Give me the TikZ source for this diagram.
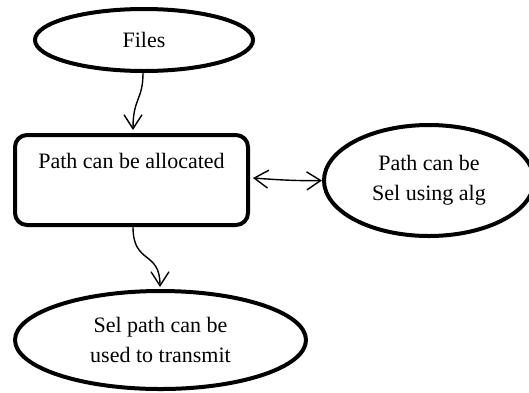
\documentclass[tikz,border=0pt]{standalone}
\usepackage{fontspec}
\setmainfont{Liberation Serif}
\usetikzlibrary{shapes.geometric,arrows.meta}
\tikzset{
  ell/.style={ellipse,draw,line width=4pt,inner sep=0pt,align=center,font=\fontsize{22}{30}\selectfont},
  boxnode/.style={rectangle,rounded corners=12pt,draw,line width=4pt,inner sep=0pt,align=center,font=\fontsize{22}{30}\selectfont},
  conn/.style={line width=1.4pt,-{Straight Barb[length=14pt,width=18pt,line width=1.4pt]}},
  dconn/.style={line width=1.4pt,{Straight Barb[length=14pt,width=18pt,line width=1.4pt]}-{Straight Barb[length=14pt,width=18pt,line width=1.4pt]}}
}
\begin{document}
\begin{tikzpicture}[x=1pt,y=-1pt]
\useasboundingbox (0,0) rectangle (529,392);
\begin{scope}
\clip (0,0) rectangle (529,392);
\node[ell,minimum width=218pt,minimum height=62pt] (files) at (144,40) {Files};
\node[boxnode,minimum width=233pt,minimum height=90pt] (box) at (131.5,180) {Path can be allocated\\\strut};
\node[ell,minimum width=210pt,minimum height=111pt] (sel) at (429,180.5) {Path can be\\Sel using alg};
\node[ell,minimum width=291pt,minimum height=98pt] (use) at (160.5,340) {Sel path can be\\used to transmit};
\coordinate (t1) at (133,130);
\coordinate (t2) at (160,287);
\draw[conn] (files.south -| 143,0) .. controls (143,100) and (133,98) .. (t1);
\draw[conn] (box.south -| 133,0) .. controls (133,265) and (160,250) .. (t2);
\draw[dconn] (box.east) ++(3,-2) .. controls (280,180) and (300,181) .. (sel.west);
\end{scope}
\end{tikzpicture}
\end{document}
